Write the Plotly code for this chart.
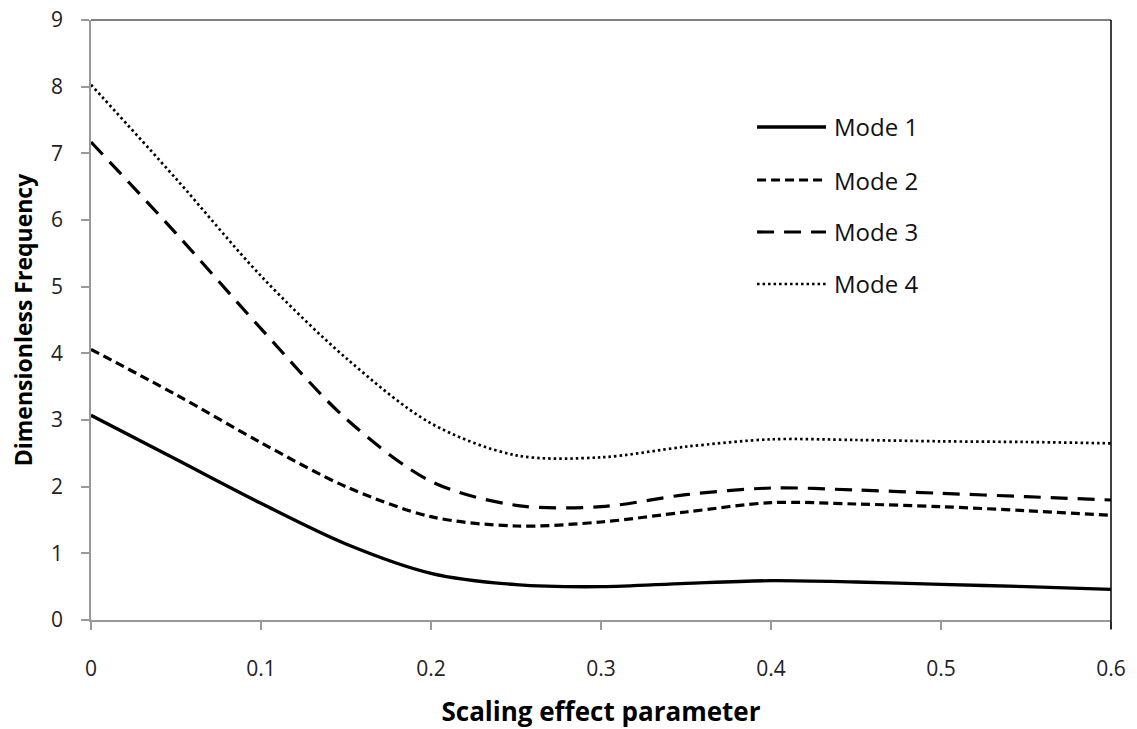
import plotly.graph_objects as go

# ---- data ----
x_vals = [0, 0.05, 0.1, 0.15, 0.2, 0.25, 0.3, 0.35, 0.4, 0.45, 0.5, 0.55, 0.6]
mode1 = [3.07, 2.41, 1.75, 1.14, 0.70, 0.53, 0.50, 0.55, 0.59, 0.57, 0.535, 0.50, 0.46]
mode2 = [4.06, 3.38, 2.66, 2.00, 1.55, 1.41, 1.47, 1.62, 1.76, 1.74, 1.70, 1.64, 1.57]
mode3 = [7.17, 5.80, 4.37, 3.02, 2.08, 1.72, 1.70, 1.88, 1.98, 1.95, 1.90, 1.85, 1.80]
mode4 = [8.03, 6.62, 5.16, 3.93, 2.95, 2.47, 2.44, 2.60, 2.71, 2.70, 2.68, 2.67, 2.65]
series_names = ["Mode 1", "Mode 2", "Mode 3", "Mode 4"]
x_ticks = [0, 0.1, 0.2, 0.3, 0.4, 0.5, 0.6]
x_tick_labels = ["0", "0.1", "0.2", "0.3", "0.4", "0.5", "0.6"]
y_ticks = list(range(0, 10))

FONT = "Open Sans"
dashes = ["solid", "9px,5px", "17px,10px", "2.5px,3px"]
widths = [3.3, 3.2, 3.2, 2.7]

fig = go.Figure()
for name, ys, d, w in zip(series_names, [mode1, mode2, mode3, mode4], dashes, widths):
    fig.add_trace(go.Scatter(
        x=x_vals, y=ys, mode="lines", name=name,
        line=dict(color="black", width=w, dash=d, shape="spline", smoothing=0.9),
        showlegend=False,
    ))

# manual legend (long line samples like the original)
leg_y = [0.8217, 0.7333, 0.6467, 0.56]
for name, d, w, yy in zip(series_names, dashes, widths, leg_y):
    fig.add_shape(type="line", xref="paper", yref="paper",
                  x0=0.653, x1=0.7206, y0=yy, y1=yy,
                  line=dict(color="black", width=w, dash=d))
    fig.add_annotation(xref="paper", yref="paper", x=0.7265, y=yy,
                       text=name, showarrow=False, xanchor="left", yanchor="middle",
                       font=dict(family=FONT, size=24, color="#111"))

# top and right borders (black)
fig.add_shape(type="line", xref="paper", yref="paper", x0=0, x1=1, y0=1, y1=1,
              line=dict(color="black", width=1))
fig.add_shape(type="line", xref="paper", yref="paper", x0=1, x1=1, y0=-0.015, y1=1,
              line=dict(color="black", width=1.5))

fig.update_layout(
    width=1137, height=729,
    margin=dict(l=91, r=26, t=20, b=109),
    paper_bgcolor="white", plot_bgcolor="white",
    font=dict(family=FONT, size=21, color="#222"),
    xaxis=dict(
        range=[0, 0.6], tickvals=x_ticks, ticktext=x_tick_labels,
        automargin=False,
        showgrid=False, zeroline=False, showline=True, linecolor="#999", linewidth=1.5,
        ticks="outside", ticklen=8, tickcolor="#999", tickwidth=1.5,
        ticklabelstandoff=21,
        tickfont=dict(family=FONT, size=21, color="#222"),
        title=dict(text="<b>Scaling effect parameter</b>", standoff=24,
                   font=dict(family=FONT, size=26, color="black")),
    ),
    yaxis=dict(
        range=[0, 9], tickvals=y_ticks,
        automargin=False,
        showgrid=False, zeroline=False, showline=True, linecolor="#999", linewidth=1.5,
        ticks="outside", ticklen=8, tickcolor="#999", tickwidth=1.5,
        ticklabelstandoff=14,
        tickfont=dict(family=FONT, size=21, color="#222"),
        title=dict(text="<b>Dimensionless Frequency</b>", standoff=12,
                   font=dict(family=FONT, size=23, color="black")),
    ),
)

fig.write_html("out.html", config={"displayModeBar": False},
               post_script="document.body.style.margin='0';")
